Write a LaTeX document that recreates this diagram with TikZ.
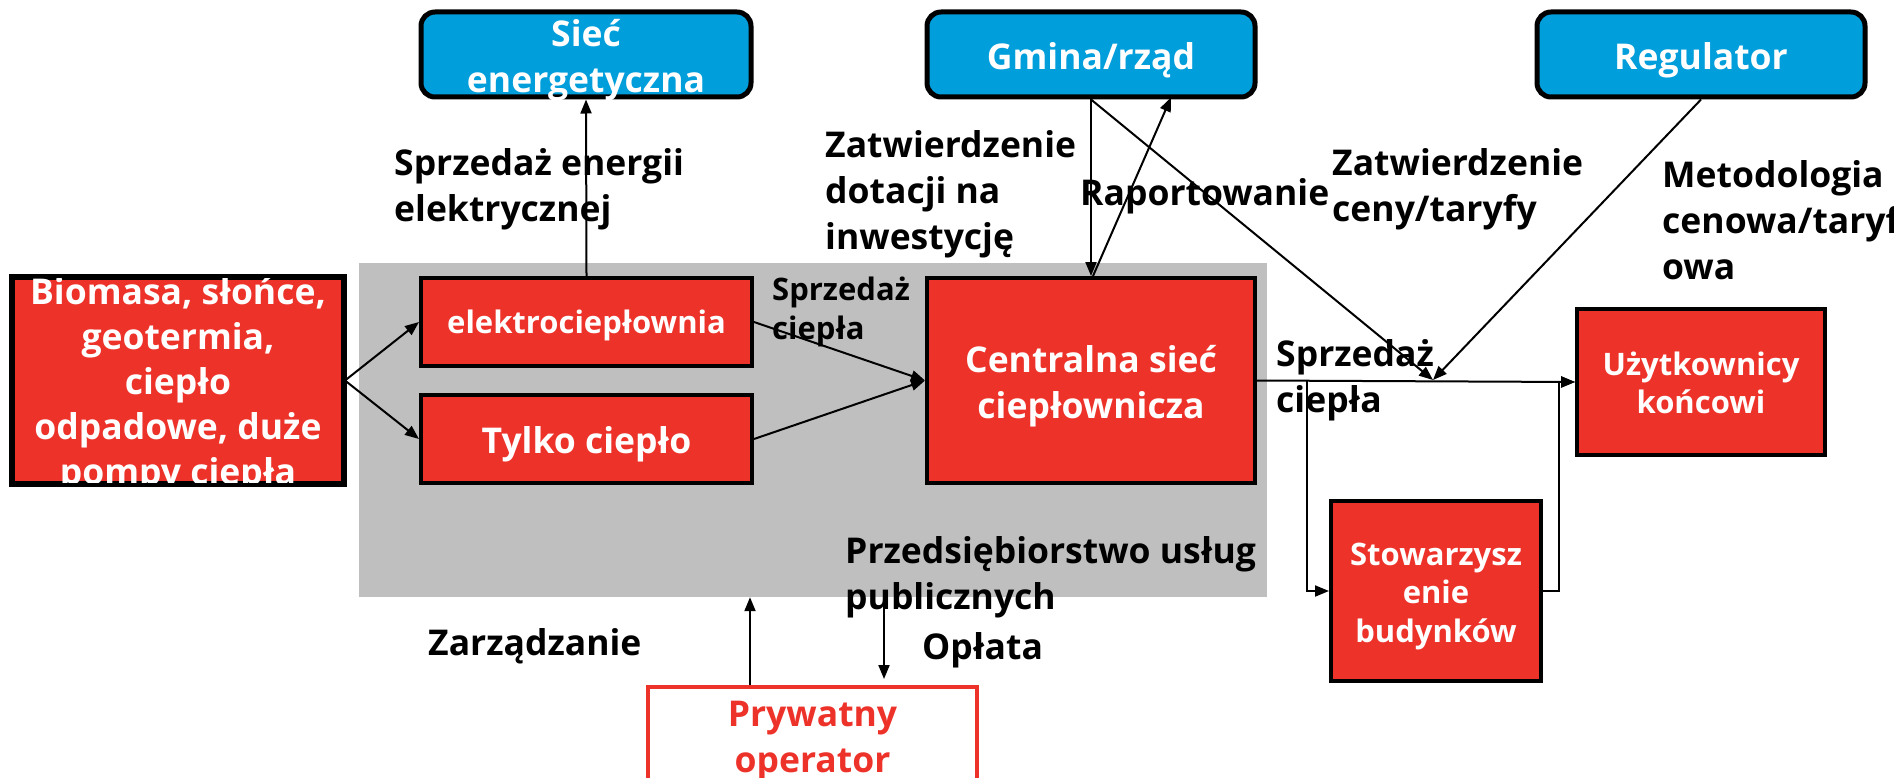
\documentclass[tikz,border=0pt]{standalone}
\usepackage{fontspec}
\setmainfont{Open Sans}
\usetikzlibrary{arrows.meta}
\definecolor{boxred}{RGB}{237,50,42}
\definecolor{boxblue}{RGB}{0,158,219}
\definecolor{utilgray}{RGB}{191,191,191}

\begin{document}
\begin{tikzpicture}[x=1pt,y=-1pt,
  big/.style={font=\bfseries\fontsize{35.5}{46}\selectfont},
  small/.style={font=\bfseries\fontsize{31}{38.5}\selectfont},
  redbox/.style={draw=black, line width=4pt, fill=boxred, inner sep=0pt},
  bluebox/.style={draw=black, line width=5pt, fill=boxblue, rounded corners=14pt, inner sep=0pt},
  opbox/.style={draw=boxred, line width=4pt, fill=white, inner sep=0pt},
  boxtext/.style={text=white, align=center, inner sep=0pt},
  lbl/.style={anchor=west, align=left, inner sep=0pt, text=black},
  arr/.style={line width=2pt, -{Triangle[length=14pt,width=11pt]}}
]
\useasboundingbox[fill=white] (0,0) rectangle (1894,778);

% utility company area
\node[fill=utilgray, minimum width=908pt, minimum height=334pt, inner sep=0pt] (utility) at (813,430) {};

% stakeholders on top
\node[bluebox, minimum width=330pt, minimum height=85pt] (siec) at (586,54.5) {};
\node[boxtext, big] (siecT) at ([yshift=-6pt]siec.center) {Sieć\\energetyczna};
\node[bluebox, minimum width=328pt, minimum height=85pt] (gmina) at (1091,54.5) {};
\node[boxtext, big] (gminaT) at ([yshift=-6pt]gmina.center) {Gmina/rząd};
\node[bluebox, minimum width=328pt, minimum height=85pt] (reg) at (1701,54.5) {};
\node[boxtext, big] (regT) at ([yshift=-6pt]reg.center) {Regulator};

% heat sources and production
\node[redbox, minimum width=330pt, minimum height=205pt] (bio) at (178,380.5) {};
\node[boxtext, font=\bfseries\fontsize{35.5}{45}\selectfont] (bioT) at ([yshift=-5pt]bio.center)
  {Biomasa, słońce,\\geotermia,\\ciepło\\odpadowe, duże\\pompy ciepła};
\draw[line width=4pt] (bio.south west) rectangle (bio.north east);
\node[redbox, minimum width=331pt, minimum height=88pt] (chp) at (586.5,322) {};
\node[boxtext, small] (chpT) at ([yshift=-3pt]chp.center) {elektrociepłownia};
\node[redbox, minimum width=331pt, minimum height=88pt] (heat) at (586.5,439) {};
\node[boxtext, big] (heatT) at ([yshift=-5pt]heat.center) {Tylko ciepło};
\node[redbox, minimum width=328pt, minimum height=205pt] (central) at (1091,380.5) {};
\node[boxtext, big] (centralT) at ([yshift=-6pt]central.center) {Centralna sieć\\ciepłownicza};

% consumers
\node[redbox, minimum width=248pt, minimum height=146pt] (users) at (1701,382) {};
\node[boxtext, small] (usersT) at ([yshift=-1pt]users.center) {Użytkownicy\\końcowi};
\node[redbox, minimum width=210pt, minimum height=180pt] (assoc) at (1436,591) {};
\node[boxtext, small] (assocT) at ([yshift=-5pt]assoc.center) {Stowarzysz\\enie\\budynków};

% operator
\node[opbox, minimum width=329pt, minimum height=102pt] (priv) at (812.5,738) {};
\node[boxtext, big, text=boxred] (privT) at ([yshift=-3pt]priv.center) {Prywatny\\operator};

% labels
\node[lbl, big] (lSprzE) at (394,189) {Sprzedaż energii\\elektrycznej};
\node[lbl, big] (lZatwD) at (825,194) {Zatwierdzenie\\dotacji na\\inwestycję};
\node[lbl, big] (lRap) at (1080,196) {Raportowanie};
\node[lbl, big] (lZatwC) at (1332,189) {Zatwierdzenie\\ceny/taryfy};
\node[lbl, big] (lMet) at (1662,220) {Metodologia\\cenowa/taryf\\owa};
\node[lbl, small] (lSprzC1) at (772,312) {Sprzedaż\\ciepła};
\node[lbl, big] (lSprzC2) at (1276,380) {Sprzedaż\\ciepła};
\node[lbl, big] (lPrz) at (845,577) {Przedsiębiorstwo usług\\publicznych};
\node[lbl, big] (lZarz) at (428,646) {Zarządzanie};
\node[lbl, big] (lOpl) at (922,650) {Opłata};

% junction points
\coordinate (jn) at (1433,380);
\coordinate (br) at (1307,380.7);
\coordinate (ret) at (1559,591);

% connectors
\draw[arr] (chp.north) -- (siec.south);
\draw[arr] (bio.east) -- (chp.west);
\draw[arr] (bio.east) -- (heat.west);
\draw[arr] (chp.east) -- (central.west);
\draw[arr] (heat.east) -- (central.west);
\draw[arr] (gmina.south) -- (central.north);
\draw[arr] ([xshift=2pt]central.north) -- ([xshift=80pt,yshift=2pt]gmina.south);
\draw[arr] (gmina.south) -- (jn);
\draw[arr] (reg.south) -- (jn);
\draw[arr] (central.east) -- (users.west);
\draw[arr] (br) |- (assoc.west);
\draw[arr] (assoc.east) -- (ret) |- (users.west);
\draw[arr] ([xshift=-62.5pt]priv.north) -- ([xshift=-62.5pt]priv.north |- utility.south);
\draw[arr] ([xshift=71.5pt]priv.north |- utility.south) -- ([xshift=71.5pt,yshift=6pt]priv.north);
\end{tikzpicture}
\end{document}
